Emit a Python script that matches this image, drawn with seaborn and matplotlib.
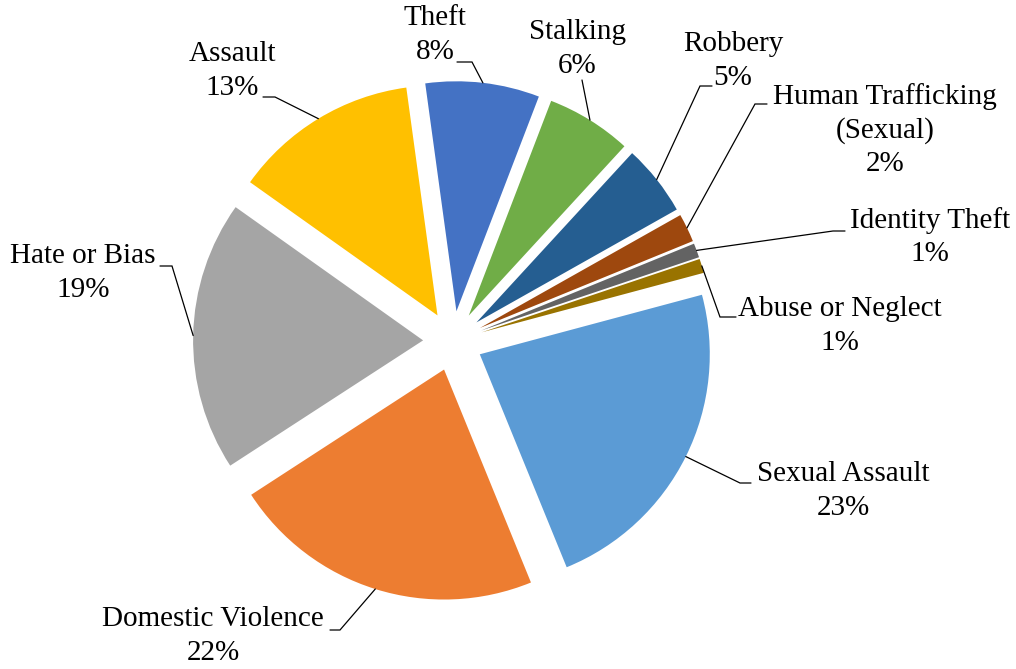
import numpy as np
import matplotlib
matplotlib.use("Agg")
import matplotlib.pyplot as plt
import seaborn as sns

sns.set_theme(style="white")
plt.rcParams['font.family'] = ['Liberation Serif', 'DejaVu Serif']

# ---- data ----
categories = ["Sexual Assault", "Domestic Violence", "Hate or Bias", "Assault", "Theft",
              "Stalking", "Robbery", "Human Trafficking\n(Sexual)", "Identity Theft",
              "Abuse or Neglect"]
values = [23, 22, 19, 13, 8, 6, 5, 2, 1, 1]
colors = ["#5B9BD5", "#ED7D31", "#A5A5A5", "#FFC000", "#4472C4",
          "#70AD47", "#255E91", "#9E480E", "#636363", "#997300"]

# ---- layout (pixel positions in the 1016x669 canvas) ----
W, H = 1016, 669
CX, CY, R = 453, 341, 230
label_pos = [(843, 491), (213, 636), (83, 273), (232, 71), (435, 35),
             (577, 49), (733, 61), (885, 130), (930, 237), (840, 326)]
# (text-side x, elbow x, y) of the short horizontal leader segment
leader = [(751, 740, 483), (330, 340, 630), (160, 172, 266), (263, 275, 97),
          (457, 472, 62), (582, 582, 80), (712, 700, 86), (767, 755, 104),
          (845, 833, 231), (736, 720, 317)]

def px(x, y):
    return (x - CX) / R, (CY - y) / R

fig = plt.figure(figsize=(W / 100, H / 100), dpi=100)
ax = fig.add_axes([0, 0, 1, 1])

explode = 0.13
wedges, _ = ax.pie(values, colors=colors, startangle=15, counterclock=False,
                   explode=[explode] * len(values), radius=1, center=(0, 0),
                   wedgeprops=dict(linewidth=0))
ax.set_xlim((0 - CX) / R, (W - CX) / R)
ax.set_ylim((CY - H) / R, CY / R)
ax.set_aspect("equal")
ax.axis("off")

total = sum(values)
for w, cat, v, (lx, ly), (x0, x1, ly2) in zip(wedges, categories, values, label_pos, leader):
    mid = np.deg2rad((w.theta1 + w.theta2) / 2)
    cxw, cyw = w.center
    ax_, ay_ = cxw + w.r * np.cos(mid), cyw + w.r * np.sin(mid)
    tx, ty = px(lx, ly)
    ax.text(tx, ty, f"{cat}\n{round(100 * v / total)}%", ha="center", va="center",
            fontsize=21, color="black", linespacing=1.36)
    p0 = px(x0, ly2)
    p1 = px(x1, ly2)
    ax.plot([p0[0], p1[0], ax_], [p0[1], p1[1], ay_], color="black", lw=0.9,
            solid_joinstyle="miter")

fig.savefig("out.png", dpi=100, facecolor="white")
